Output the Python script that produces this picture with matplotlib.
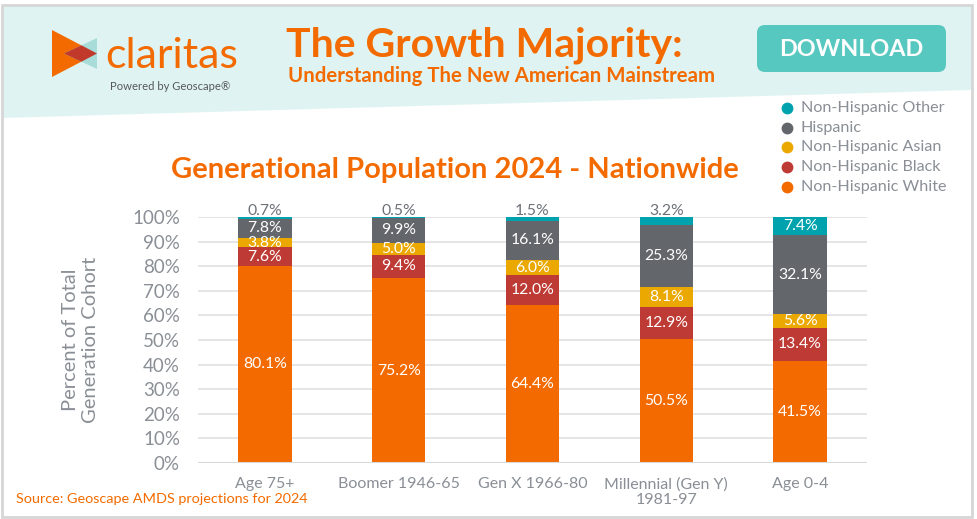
import matplotlib.pyplot as plt
from matplotlib.patches import Polygon, FancyBboxPatch, Rectangle
import numpy as np

plt.rcParams['font.family'] = ['Lato', 'DejaVu Sans']

categories = ['Age 75+', 'Boomer 1946-65', 'Gen X 1966-80', 'Millennial (Gen Y)\n1981-97', 'Age 0-4']
groups = ['Non-Hispanic White', 'Non-Hispanic Black', 'Non-Hispanic Asian', 'Hispanic', 'Non-Hispanic Other']
white = [80.1, 75.2, 64.4, 50.5, 41.5]
black = [7.6, 9.4, 12.0, 12.9, 13.4]
asian = [3.8, 5.0, 6.0, 8.1, 5.6]
hispanic = [7.8, 9.9, 16.1, 25.3, 32.1]
other = [0.7, 0.5, 1.5, 3.2, 7.4]
yticks = [0, 10, 20, 30, 40, 50, 60, 70, 80, 90, 100]

col = ['#f36b00', '#be3a34', '#eaa800', '#63666a', '#00a3ad']
orange = '#f36b00'
gray_txt = '#8a8f96'

W, H = 978, 519
fig = plt.figure(figsize=(W / 100, H / 100), dpi=100)

# background / header in pixel coords
bg = fig.add_axes([0, 0, 1, 1])
bg.set_xlim(0, W)
bg.set_ylim(H, 0)
bg.axis('off')
bg.add_patch(Polygon([(2, 5), (972, 5), (972, 90), (2, 118)], closed=True,
                     facecolor='#dff4f2', edgecolor='none'))
bg.add_patch(Rectangle((2, 5), 970, 512, facecolor='none', edgecolor='#d6d6d6', lw=2))

# logo
bg.add_patch(Polygon([(52, 30), (52, 77), (97, 53.5)], facecolor=orange, edgecolor='none'))
bg.add_patch(Polygon([(64, 53.5), (97, 38), (97, 69)], facecolor='#a8dcd9', edgecolor='none'))
bg.add_patch(Polygon([(64, 53.5), (81.4, 45.3), (97, 53.5), (81.4, 61.7)],
                     facecolor='#c0392b', edgecolor='none'))
bg.text(105, 68, 'claritas', color=orange, fontsize=31, va='baseline', ha='left')
bg.text(110, 87, 'Powered by Geoscape®', color='#55575c', fontsize=8.1, va='center', ha='left')

bg.text(286, 57, 'The Growth Majority:', color=orange, fontsize=29.5, fontweight='bold',
        va='baseline', ha='left')
bg.text(288, 76, 'Understanding The New American Mainstream', color=orange, fontsize=14.7,
        fontweight='bold', va='center', ha='left')

bg.add_patch(FancyBboxPatch((757, 25), 189, 47, boxstyle='round,pad=0,rounding_size=8',
                            facecolor='#56c8bf', edgecolor='none'))
bg.text(851.5, 49, 'DOWNLOAD', color='white', fontsize=16.8, fontweight='bold',
        ha='center', va='center')

# legend
for i, g in enumerate(groups[::-1]):
    y = 108 + i * 19.7
    bg.plot(787, y, 'o', color=col[::-1][i], ms=7.5)
    bg.text(801, y, g, color=gray_txt, fontsize=11.6, va='center', ha='left')

bg.text(455, 170, 'Generational Population 2024 - Nationwide', color=orange, fontsize=21,
        fontweight='bold', ha='center', va='center')
bg.text(16, 499, 'Source: Geoscape AMDS projections for 2024', color=orange, fontsize=10.4,
        ha='left', va='center')

# chart
ax = fig.add_axes([198 / W, (H - 463) / H, 669 / W, 246 / H])
ax.set_facecolor('none')
x = np.arange(len(categories))
series = [white, black, asian, hispanic, other]
bottom = np.zeros(len(categories))
for s, vals in enumerate(series):
    vals = np.array(vals)
    ax.bar(x, vals, 0.4, bottom=bottom, color=col[s], zorder=3, label=groups[s])
    for i, v in enumerate(vals):
        if s == 4 and v < 5:
            ax.annotate(f'{v:.1f}%', (x[i], 100), xytext=(0, 4), textcoords='offset points',
                        ha='center', va='center', color='#6d7178', fontsize=11.3, zorder=5)
        else:
            ax.text(x[i], bottom[i] + v / 2, f'{v:.1f}%', ha='center', va='center',
                    color='white', fontsize=11.3, zorder=5)
    bottom += vals

ax.set_xlim(-0.5, 4.5)
ax.set_ylim(0, 100)
ax.set_yticks(yticks)
ax.set_yticklabels([f'{t}%' for t in yticks])
ax.set_xticks(x)
ax.set_xticklabels(categories)
ax.grid(axis='y', color='#e0e0e0', lw=1.2, zorder=0)
for sp in ax.spines.values():
    sp.set_visible(False)
ax.axhline(0, color='#d9d9d9', lw=1.5, zorder=4)
ax.tick_params(axis='both', length=0, colors=gray_txt)
ax.tick_params(axis='y', pad=13, labelsize=13.5)
ax.tick_params(axis='x', pad=10, labelsize=11.5)
ax.set_ylabel('Percent of Total\nGeneration Cohort', color=gray_txt, fontsize=14.5,
              labelpad=24)

fig.savefig('out.png', dpi=100)
